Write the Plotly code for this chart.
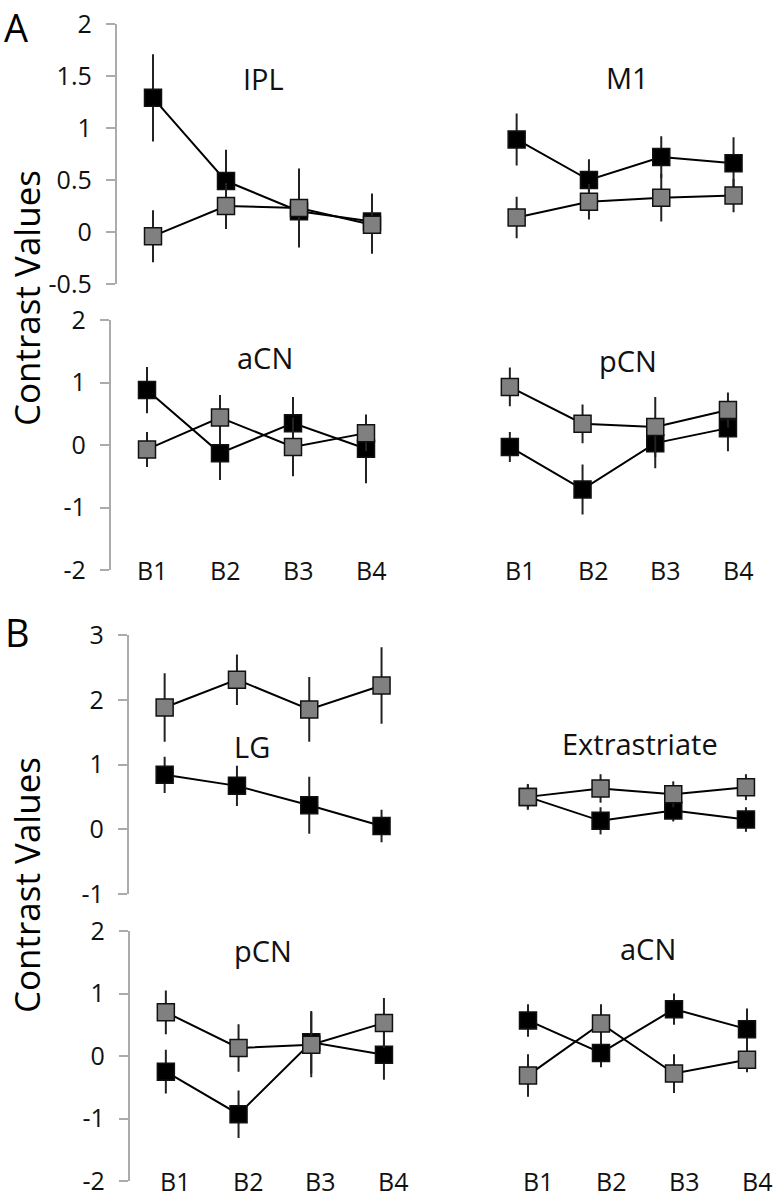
import plotly.graph_objects as go

W, H = 777, 1199

blocks = ["B1", "B2", "B3", "B4"]
xpos = [1, 2, 3, 4]

# Panel A
ipl_black = [1.29, 0.49, 0.20, 0.10]
ipl_black_err = [0.42, 0.30, 0.30, 0.27]
ipl_gray = [-0.04, 0.25, 0.23, 0.07]
ipl_gray_err = [0.25, 0.22, 0.38, 0.28]

m1_black = [0.89, 0.50, 0.72, 0.66]
m1_black_err = [0.25, 0.20, 0.20, 0.25]
m1_gray = [0.14, 0.29, 0.33, 0.35]
m1_gray_err = [0.20, 0.17, 0.23, 0.16]

acnA_black = [0.88, -0.13, 0.35, -0.06]
acnA_black_err = [0.37, 0.43, 0.42, 0.55]
acnA_gray = [-0.07, 0.44, -0.03, 0.19]
acnA_gray_err = [0.28, 0.36, 0.47, 0.29]

pcnA_black = [-0.03, -0.71, 0.03, 0.27]
pcnA_black_err = [0.24, 0.40, 0.40, 0.37]
pcnA_gray = [0.93, 0.34, 0.29, 0.56]
pcnA_gray_err = [0.31, 0.31, 0.48, 0.28]

# Panel B
lg_black = [0.84, 0.67, 0.37, 0.05]
lg_black_err = [0.28, 0.31, 0.44, 0.25]
lg_gray = [1.88, 2.31, 1.85, 2.22]
lg_gray_err = [0.53, 0.39, 0.50, 0.59]

ext_black = [0.50, 0.13, 0.29, 0.15]
ext_black_err = [0.18, 0.21, 0.17, 0.19]
ext_gray = [0.50, 0.63, 0.54, 0.65]
ext_gray_err = [0.20, 0.22, 0.20, 0.20]

pcnB_black = [-0.25, -0.93, 0.22, 0.02]
pcnB_black_err = [0.35, 0.38, 0.50, 0.40]
pcnB_gray = [0.70, 0.13, 0.18, 0.53]
pcnB_gray_err = [0.35, 0.38, 0.52, 0.40]

acnB_black = [0.57, 0.05, 0.75, 0.43]
acnB_black_err = [0.26, 0.23, 0.25, 0.33]
acnB_gray = [-0.31, 0.52, -0.28, -0.06]
acnB_gray_err = [0.34, 0.31, 0.31, 0.20]

yt_A_top = [-0.5, 0, 0.5, 1, 1.5, 2]
yt_A_top_text = ["-0.5", "0", "0.5", "1", "1.5", "2"]
yt_4 = [-2, -1, 0, 1, 2]
yt_4_text = ["-2", "-1", "0", "1", "2"]
yt_B_top = [-1, 0, 1, 2, 3]
yt_B_top_text = ["-1", "0", "1", "2", "3"]

FONT = "Open Sans"

# (title, black, black_err, gray, gray_err, x0px, pxPerUnit, ytop, ybot, yrange, ticks, ticktext, show_axis, xlabels, title_xy, label_shift)
panels = [
    ("IPL", ipl_black, ipl_black_err, ipl_gray, ipl_gray_err, 116.5, 73, 24, 284, [-0.5, 2], yt_A_top, yt_A_top_text, True, False, (263, 78), 0),
    ("M1", m1_black, m1_black_err, m1_gray, m1_gray_err, 480.5, 72.3, 24, 284, [-0.5, 2], None, None, False, False, (627, 77), 0),
    ("aCN", acnA_black, acnA_black_err, acnA_gray, acnA_gray_err, 110.5, 73, 320, 570, [-2, 2], yt_4, yt_4_text, True, True, (265, 358), 5),
    ("pCN", pcnA_black, pcnA_black_err, pcnA_gray, pcnA_gray_err, 473.5, 72.7, 320, 570, [-2, 2], None, None, False, True, (628, 360), 10),
    ("LG", lg_black, lg_black_err, lg_gray, lg_gray_err, 128.5, 72.3, 635, 894, [-1, 3], yt_B_top, yt_B_top_text, True, False, (252, 746), 0),
    ("Extrastriate", ext_black, ext_black_err, ext_gray, ext_gray_err, 491.5, 72.7, 635, 894, [-1, 3], None, None, False, False, (640, 743), 0),
    ("pCN", pcnB_black, pcnB_black_err, pcnB_gray, pcnB_gray_err, 129.5, 72.7, 931, 1181, [-2, 2], yt_4, yt_4_text, True, True, (263, 950), 9),
    ("aCN", acnB_black, acnB_black_err, acnB_gray, acnB_gray_err, 491.5, 73, 931, 1181, [-2, 2], None, None, False, True, (648, 948), 10),
]

xr = [0.5, 4.3]
fig = go.Figure()
annotations = []
layout_axes = {}

for i, (title, bl, ble, gr, gre, x0, ppu, ytop, ybot, yr, tv, tt, show_axis, xlabels, txy, lshift) in enumerate(panels):
    n = i + 1
    xa = "x" if n == 1 else f"x{n}"
    ya = "y" if n == 1 else f"y{n}"
    xkey = "xaxis" if n == 1 else f"xaxis{n}"
    ykey = "yaxis" if n == 1 else f"yaxis{n}"
    x1 = x0 + (xr[1] - xr[0]) * ppu
    layout_axes[xkey] = dict(domain=[x0 / W, x1 / W], range=xr, visible=False, anchor=ya,
                             automargin=False)
    yd = dict(domain=[1 - ybot / H, 1 - ytop / H], range=yr, anchor=xa,
              showgrid=False, zeroline=False, automargin=False)
    if show_axis:
        yd.update(showline=True, linecolor="#ababab", linewidth=1.5,
                  ticks="outside", ticklen=9, tickcolor="#ababab", tickwidth=1.5,
                  tickvals=tv, ticktext=tt, ticklabelstandoff=9,
                  tickfont=dict(family=FONT, size=25, color="#111"))
    else:
        yd.update(visible=False)
    layout_axes[ykey] = yd

    for vals, errs, fill in ((bl, ble, "#000000"), (gr, gre, "#808080")):
        fig.add_trace(go.Scatter(
            x=xpos, y=vals, xaxis=xa, yaxis=ya, mode="lines+markers",
            line=dict(color="#000", width=2),
            marker=dict(symbol="square", size=17, color=fill,
                        line=dict(color="#111", width=1.5)),
            error_y=dict(type="data", array=errs, visible=True,
                         color="#222", thickness=2, width=0),
            showlegend=False, hoverinfo="skip"))

    annotations.append(dict(text=title, x=txy[0] / W, y=1 - txy[1] / H, xref="paper", yref="paper",
                            xanchor="center", yanchor="middle", showarrow=False,
                            font=dict(family=FONT, size=29, color="#111")))
    if xlabels:
        for xv, lab in zip(xpos, blocks):
            annotations.append(dict(text=lab, x=xv, y=yr[0], xref=xa, yref=ya,
                                    xanchor="center", yanchor="middle", showarrow=False,
                                    xshift=lshift,
                                    font=dict(family=FONT, size=25, color="#111")))

# Panel letters and y titles
annotations.append(dict(text="A", x=2 / W, y=1 - 27 / H, xref="paper", yref="paper",
                        xanchor="left", yanchor="middle", showarrow=False,
                        font=dict(family=FONT, size=38, color="#000")))
annotations.append(dict(text="B", x=3 / W, y=1 - 632 / H, xref="paper", yref="paper",
                        xanchor="left", yanchor="middle", showarrow=False,
                        font=dict(family=FONT, size=38, color="#000")))
for yc in (298, 885):
    annotations.append(dict(text="Contrast Values", x=26 / W, y=1 - yc / H, xref="paper", yref="paper",
                            xanchor="center", yanchor="middle", textangle=-90, showarrow=False,
                            font=dict(family=FONT, size=35, color="#000")))

fig.update_layout(width=W, height=H,
                  margin=dict(l=0, r=0, t=0, b=0, pad=0, autoexpand=False),
                  paper_bgcolor="white", plot_bgcolor="white",
                  annotations=annotations, **layout_axes)

fig.write_html("out.html", config={"displayModeBar": False},
               post_script="document.body.style.margin='0';document.body.style.overflow='hidden';")
